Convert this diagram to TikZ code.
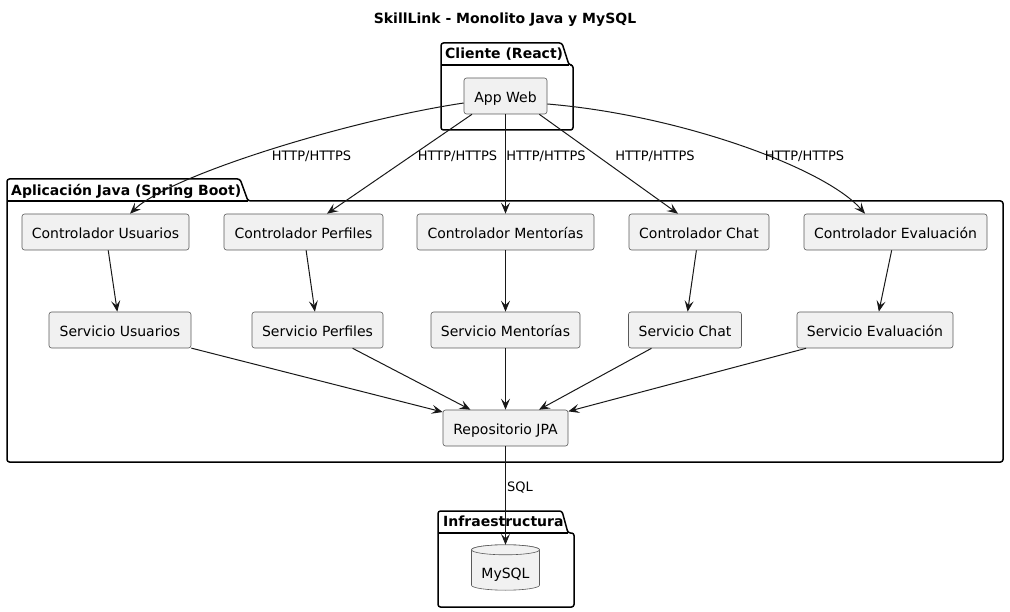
\documentclass[tikz,border=0pt]{standalone}
\usepackage{fontspec}
\setmainfont{DejaVu Sans}
\usetikzlibrary{arrows.meta,calc}
\definecolor{ln}{HTML}{181818}
\definecolor{nf}{HTML}{F1F1F1}
\definecolor{nb}{HTML}{5A5A5A}
\tikzset{
  comp/.style={draw=nb, fill=nf, line width=0.6pt, rounded corners=2.5pt,
    minimum height=36pt, inner sep=0pt, text height=12.6pt, text depth=0pt,
    font=\fontsize{14pt}{16pt}\selectfont},
  conn/.style={draw=ln, line width=1pt, -{Stealth[length=11pt,width=9pt,inset=4.5pt]}},
  lbl/.style={font=\fontsize{13pt}{15pt}\selectfont, inner sep=0pt,
    text height=9.5pt, text depth=0pt},
  pkg/.style={draw=black, line width=1.5pt, line join=round},
  pkgtitle/.style={font=\bfseries\fontsize{14pt}{16pt}\selectfont, inner sep=0pt,
    anchor=west, text height=10.2pt, text depth=0pt},
  cyl/.style={draw=nb, fill=nf, line width=0.6pt},
}
\begin{document}
\begin{tikzpicture}[x=1pt,y=-1pt]
\useasboundingbox (0,0) rectangle (1010,612);

% title
\node[font=\bfseries\fontsize{14pt}{16pt}\selectfont, inner sep=0pt,
  text height=10.2pt, text depth=0pt] (title) at (505,18) {SkillLink - Monolito Java y MySQL};

% packages
\draw[pkg, rounded corners=2.5pt] (441,65) -- (441,43) -- (562,43) -- (569,65)
  -- (573,65) -- (573,130) -- (441,130) -- cycle;
\draw[pkg] (441,65) -- (569,65);
\node[pkgtitle] (pcli) at (445,53.3) {Cliente (React)};

\draw[pkg, rounded corners=2.5pt] (7,201) -- (7,179) -- (240,179) -- (248,201)
  -- (1003,201) -- (1003,462) -- (7,462) -- cycle;
\draw[pkg] (7,201) -- (248,201);
\node[pkgtitle] (pjava) at (11,190.3) {Aplicación Java (Spring Boot)};

\draw[pkg, rounded corners=2.5pt] (438,533) -- (438,511) -- (562,511) -- (568,533)
  -- (574,533) -- (574,607) -- (438,607) -- cycle;
\draw[pkg] (438,533) -- (568,533);
\node[pkgtitle] (pinf) at (443,521) {Infraestructura};

% components
\node[comp, minimum width=83pt]  (app)  at (505.5,96) {App Web};

\node[comp, minimum width=167pt] (cu) at (105.5,232) {Controlador Usuarios};
\node[comp, minimum width=159pt] (cp) at (303.5,232) {Controlador Perfiles};
\node[comp, minimum width=177pt] (cm) at (505.5,232) {Controlador Mentorías};
\node[comp, minimum width=140pt] (cc) at (699,232)   {Controlador Chat};
\node[comp, minimum width=183pt] (ce) at (895.5,232) {Controlador Evaluación};

\node[comp, minimum width=142pt] (su) at (120,330)   {Servicio Usuarios};
\node[comp, minimum width=131pt] (sp) at (317.5,330) {Servicio Perfiles};
\node[comp, minimum width=149pt] (sm) at (505.5,330) {Servicio Mentorías};
\node[comp, minimum width=113pt] (sc) at (685,330)   {Servicio Chat};
\node[comp, minimum width=156pt] (se) at (875,330)   {Servicio Evaluación};

\node[comp, minimum width=125pt] (repo) at (505.5,428) {Repositorio JPA};

% database
\node[minimum width=68pt, minimum height=45pt, inner sep=0pt] (mysql) at (505.5,567.5) {};
\path (mysql.north) ++(0,5) coordinate (ct);
\path (mysql.south) ++(0,-5) coordinate (cb);
\draw[cyl] ($(ct)+(-34,0)$) -- ($(cb)+(-34,0)$)
  arc[start angle=180, end angle=360, x radius=34pt, y radius=5pt]
  -- ($(ct)+(34,0)$)
  arc[start angle=0, end angle=180, x radius=34pt, y radius=5pt] -- cycle;
\draw[cyl] (ct) ellipse[x radius=34pt, y radius=5pt];
\node[font=\fontsize{14pt}{16pt}\selectfont, inner sep=0pt, text height=12.6pt, text depth=0pt]
  (mysqltxt) at ($(mysql.center)+(0,4.5)$) {MySQL};

% connectors from App Web
\draw[conn] ($(app.west)+(0,7)$) .. controls (350,120) and (170,175) .. ($(cu.north)+(24.5,0)$);
\draw[conn] ($(app.south)+(-33.5,0)$) -- ($(cp.north)+(23.5,0)$);
\draw[conn] (app) -- (cm);
\draw[conn] ($(app.south east)+(-8,0)$) -- ($(cc.north)+(-21,0)$);
\draw[conn] ($(app.east)+(0,8)$) .. controls (680,115) and (825,168) .. ($(ce.north)+(-30.5,0)$);

\node[lbl] (l1) at (311.5,156) {HTTP/HTTPS};
\node[lbl] (l2) at (457.5,156) {HTTP/HTTPS};
\node[lbl] (l3) at (546,156)   {HTTP/HTTPS};
\node[lbl] (l4) at (655,156)   {HTTP/HTTPS};
\node[lbl] (l5) at (804.5,156) {HTTP/HTTPS};

% controllers -> services
\draw[conn] (cu) -- (su);
\draw[conn] (cp) -- (sp);
\draw[conn] (cm) -- (sm);
\draw[conn] (cc) -- (sc);
\draw[conn] (ce) -- (se);

% services -> repository
\draw[conn] (su) -- (repo);
\draw[conn] (sp) -- (repo);
\draw[conn] (sm) -- (repo);
\draw[conn] (sc) -- (repo);
\draw[conn] (se) -- (repo);

% repository -> database
\draw[conn] (repo) -- (mysql.north);
\node[lbl] (lsql) at (520,487) {SQL};
\end{tikzpicture}
\end{document}
